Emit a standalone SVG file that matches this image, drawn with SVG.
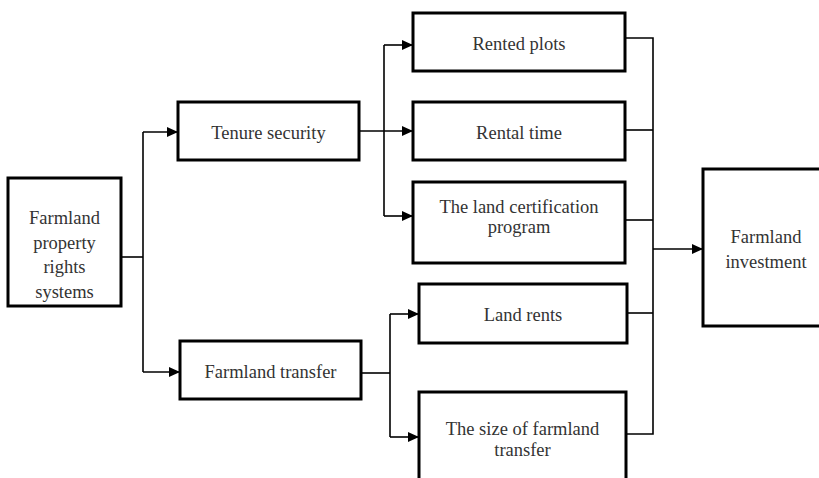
<svg xmlns="http://www.w3.org/2000/svg" width="819" height="478" viewBox="0 0 819 478">
<defs>
<marker id="arr" markerWidth="11" markerHeight="10" refX="11" refY="5" orient="auto" markerUnits="userSpaceOnUse">
<path d="M0,0 L11,5 L0,10 Z" fill="#000"/>
</marker>
</defs>
<style>
.box{fill:#fff;stroke:#000;stroke-width:3}
.lbl{font-family:"Liberation Serif","Times New Roman",serif;font-size:18.5px;fill:#333;text-anchor:middle}
.c{fill:none;stroke:#000;stroke-width:1.6}
</style>
<rect width="819" height="478" fill="#fff"/>
<g id="connectors">
<polyline class="c" points="121,257 143,257"/>
<polyline class="c" points="143,132 143,372"/>
<polyline class="c" points="143,132 178,132" marker-end="url(#arr)"/>
<polyline class="c" points="143,372 180,372" marker-end="url(#arr)"/>
<polyline class="c" points="359,131 413,131" marker-end="url(#arr)"/>
<polyline class="c" points="384,45 384,216"/>
<polyline class="c" points="384,45 413,45" marker-end="url(#arr)"/>
<polyline class="c" points="384,216 413,216" marker-end="url(#arr)"/>
<polyline class="c" points="361,373 390,373"/>
<polyline class="c" points="390,314 390,437"/>
<polyline class="c" points="390,314 419,314" marker-end="url(#arr)"/>
<polyline class="c" points="390,437 419,437" marker-end="url(#arr)"/>
<polyline class="c" points="625,38 653,38 653,434 626,434"/>
<polyline class="c" points="625,130 653,130"/>
<polyline class="c" points="625,220 653,220"/>
<polyline class="c" points="627,313 653,313"/>
<polyline class="c" points="653,249 703,249" marker-end="url(#arr)"/>
</g>
<g id="node-frps">
<rect class="box" x="8" y="178" width="113" height="128"/>
<text class="lbl" x="64.5" y="224">Farmland</text>
<text class="lbl" x="64.5" y="249">property</text>
<text class="lbl" x="64.5" y="273">rights</text>
<text class="lbl" x="64.5" y="298">systems</text>
</g>
<g id="node-tenure">
<rect class="box" x="178" y="102" width="181" height="58"/>
<text class="lbl" x="268.5" y="139">Tenure security</text>
</g>
<g id="node-transfer">
<rect class="box" x="180" y="341" width="181" height="58"/>
<text class="lbl" x="270.5" y="378">Farmland transfer</text>
</g>
<g id="node-plots">
<rect class="box" x="413" y="13" width="212" height="58"/>
<text class="lbl" x="519" y="50">Rented plots</text>
</g>
<g id="node-time">
<rect class="box" x="413" y="102" width="212" height="58"/>
<text class="lbl" x="519" y="139">Rental time</text>
</g>
<g id="node-cert">
<rect class="box" x="413" y="182" width="212" height="81"/>
<text class="lbl" x="519" y="213">The land certification</text>
<text class="lbl" x="519" y="233">program</text>
</g>
<g id="node-rents">
<rect class="box" x="419" y="284" width="208" height="59"/>
<text class="lbl" x="523" y="321">Land rents</text>
</g>
<g id="node-size">
<rect class="box" x="419" y="392" width="207" height="100"/>
<text class="lbl" x="522.5" y="435">The size of farmland</text>
<text class="lbl" x="522.5" y="456">transfer</text>
</g>
<g id="node-invest">
<rect class="box" x="703" y="169" width="127" height="157"/>
<text class="lbl" x="766" y="243">Farmland</text>
<text class="lbl" x="766" y="268">investment</text>
</g>
</svg>
